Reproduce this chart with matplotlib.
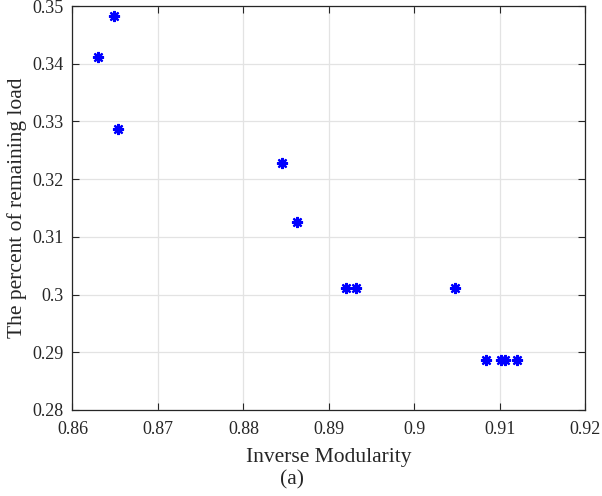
import numpy as np
import matplotlib
matplotlib.use('Agg')
import matplotlib.pyplot as plt
from matplotlib.ticker import FuncFormatter

# Data
inverse_modularity = [0.86302, 0.86485, 0.86532, 0.88454, 0.88626, 0.89195,
                      0.89312, 0.90474, 0.90844, 0.91015, 0.91055, 0.91199]
remaining_load = [0.34111, 0.34827, 0.32863, 0.32274, 0.31257, 0.30116,
                  0.30116, 0.30116, 0.28863, 0.28863, 0.28863, 0.28863]

x_ticks = [0.86, 0.87, 0.88, 0.89, 0.90, 0.91, 0.92]
y_ticks = [0.28, 0.29, 0.30, 0.31, 0.32, 0.33, 0.34, 0.35]

plt.rcParams['font.family'] = ['Liberation Serif', 'DejaVu Serif']

fig = plt.figure(figsize=(6.02, 4.96), dpi=100)
ax = fig.add_axes([0.1204, 0.1734, 0.8518, 0.8145])

ax.plot(inverse_modularity, remaining_load, linestyle='none',
        marker=(8, 2, 0), markersize=8, markeredgewidth=1.6, color='#0000ff')

ax.set_xlim(0.86, 0.92)
ax.set_ylim(0.28, 0.35)
ax.set_xticks(x_ticks)
ax.set_yticks(y_ticks)
fmt = FuncFormatter(lambda v, pos: '%g' % round(v, 4))
ax.xaxis.set_major_formatter(fmt)
ax.yaxis.set_major_formatter(fmt)

ax.grid(True, color='#e3e3e3', linewidth=0.9)
ax.set_axisbelow(True)
ax.tick_params(direction='in', length=5, width=0.8, top=True, right=True,
               labelsize=13, colors='#262626')
ax.tick_params(axis='x', pad=8)
ax.tick_params(axis='y', pad=6.4)
for spine in ax.spines.values():
    spine.set_linewidth(0.9)
    spine.set_color('#262626')

ax.set_xlabel('Inverse Modularity', fontsize=15.5, color='#262626', labelpad=7)
ax.set_ylabel('The percent of remaining load', fontsize=15.5, color='#262626', labelpad=4)
fig.text(0.485, 0.032, '(a)', fontsize=15.5, ha='center', va='center', color='#262626')

fig.savefig('out.png', dpi=100)
